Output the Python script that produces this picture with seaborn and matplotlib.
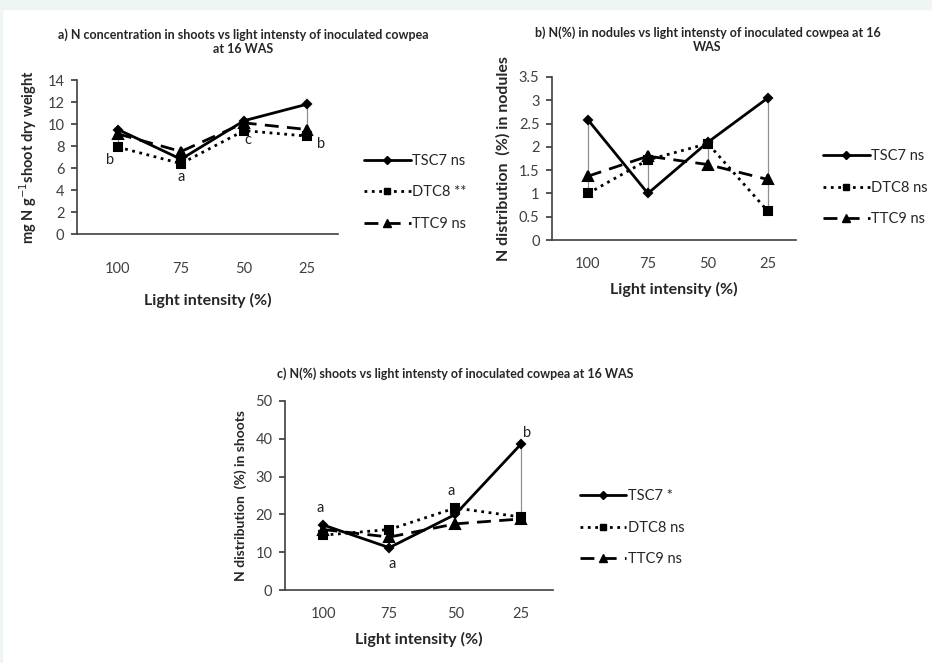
import numpy as np
import pandas as pd
import matplotlib
matplotlib.use("Agg")
import matplotlib.pyplot as plt
import matplotlib.patches as mpatches
from matplotlib.lines import Line2D
import seaborn as sns

# ---- data ----
light = ["100", "75", "50", "25"]
series = ["TSC7", "DTC8", "TTC9"]

shoot_conc_tsc7 = [9.5, 6.8, 10.3, 11.8]
shoot_conc_dtc8 = [7.9, 6.4, 9.4, 8.9]
shoot_conc_ttc9 = [9.1, 7.5, 10.1, 9.5]
shoot_conc_sig = ["ns", "**", "ns"]

nodule_tsc7 = [2.58, 1.0, 2.1, 3.05]
nodule_dtc8 = [1.0, 1.72, 2.07, 0.62]
nodule_ttc9 = [1.37, 1.8, 1.62, 1.3]
nodule_sig = ["ns", "ns", "ns"]

shoot_pct_tsc7 = [17.2, 11.2, 20.0, 38.7]
shoot_pct_dtc8 = [14.5, 16.0, 21.7, 19.3]
shoot_pct_ttc9 = [16.0, 14.0, 17.5, 18.8]
shoot_pct_sig = ["*", "ns", "ns"]

# letters (letter, category, series it sits by)
letters_a = [("b", "100", "DTC8"), ("a", "75", "DTC8"), ("c", "50", "DTC8"), ("b", "25", "DTC8")]
letters_c = [("a", "100", "TSC7"), ("a", "75", "TSC7"), ("a", "50", "DTC8"), ("b", "25", "TSC7")]

styles = {
    "TSC7": dict(marker="D", linestyle="-", markersize=4, linewidth=2.0),
    "DTC8": dict(marker="s", linestyle=":", markersize=5.5, linewidth=2.0),
    "TTC9": dict(marker="^", linestyle=(0, (5, 3)), markersize=6.5, linewidth=2.0),
}

sns.set_theme(style="white")
plt.rcParams["font.family"] = ["Lato", "DejaVu Sans"]

W, H = 932, 663
fig = plt.figure(figsize=(W / 100, H / 100), dpi=100)
fig.patch.set_facecolor("white")
fig.add_artist(mpatches.Rectangle((0, 1 - 9 / H), 1, 9 / H, transform=fig.transFigure,
                                  color="#eef5f2", zorder=0))
fig.add_artist(mpatches.Rectangle((0, 0), 2 / W, 1, transform=fig.transFigure,
                                  color="#eef5f2", zorder=0))


def px_axes(x0, y_top, x1, y_bot):
    return fig.add_axes([x0 / W, 1 - y_bot / H, (x1 - x0) / W, (y_bot - y_top) / H])


def make_df(a, b, c):
    return pd.DataFrame({
        "light": light * 3,
        "value": a + b + c,
        "series": sum([[s] * len(light) for s in series], []),
    })


def panel(ax, df, sig, ymax, ystep, ylabel, ylsize, title, title_y, xlim,
          tickpad, xlpad, leg_anchor):
    for s in series:
        sub = df[df["series"] == s]
        st = styles[s]
        sns.pointplot(data=sub, x="light", y="value", order=light, color="black",
                      errorbar=None, marker=st["marker"], linestyle=st["linestyle"],
                      markersize=st["markersize"], linewidth=st["linewidth"],
                      ax=ax, zorder=3)
    # high-low lines
    piv = df.pivot(index="light", columns="series", values="value").loc[light]
    ax.vlines(range(len(light)), piv.min(axis=1), piv.max(axis=1), color="#909090",
              linewidth=0.9, zorder=1)
    ax.set_xlim(*xlim)
    ax.set_ylim(0, ymax)
    ticks = np.arange(0, ymax + ystep / 2, ystep)
    ax.set_yticks(ticks)
    ax.set_yticklabels([f"{t:g}" for t in ticks])
    ax.set_xlabel("Light intensity (%)", fontsize=11.5, fontweight="bold", labelpad=xlpad)
    ax.set_ylabel(ylabel, fontsize=ylsize, fontweight="bold", labelpad=6)
    ax.set_title(title, fontsize=9, fontweight="bold", x=0.637, y=title_y, linespacing=1.2)
    for side in ["top", "right"]:
        ax.spines[side].set_visible(False)
    for side in ["left", "bottom"]:
        ax.spines[side].set_color("#404040")
        ax.spines[side].set_linewidth(1.2)
    ax.tick_params(axis="y", left=True, length=4, color="#404040", labelsize=10.5,
                   labelcolor="#404040", pad=5)
    ax.tick_params(axis="x", bottom=False, labelsize=10.5, labelcolor="#404040", pad=tickpad)
    handles = [Line2D([], [], color="black", marker=styles[s]["marker"],
                      linestyle=styles[s]["linestyle"], linewidth=2.0,
                      markersize=styles[s]["markersize"] * 0.9) for s in series]
    labels = [f"{s} {t}" for s, t in zip(series, sig)]
    ax.legend(handles, labels, loc="center left", bbox_to_anchor=leg_anchor, frameon=False,
              fontsize=10.5, labelspacing=1.2, handlelength=3.2, handletextpad=0.1,
              borderaxespad=0, borderpad=0)


def add_letters(ax, df, letters, offsets):
    for (txt, cat, s), (dx, dy) in zip(letters, offsets):
        yv = df[(df["series"] == s) & (df["light"] == cat)]["value"].iloc[0]
        ax.annotate(txt, (light.index(cat), yv), xytext=(dx, dy), textcoords="offset points",
                    ha="center", va="center", fontsize=10.5, color="#222222")


df_a = make_df(shoot_conc_tsc7, shoot_conc_dtc8, shoot_conc_ttc9)
df_b = make_df(nodule_tsc7, nodule_dtc8, nodule_ttc9)
df_c = make_df(shoot_pct_tsc7, shoot_pct_dtc8, shoot_pct_ttc9)

ax_a = px_axes(77, 80, 338, 234)
panel(ax_a, df_a, shoot_conc_sig, 14, 2, "mg N g$^{-1}$shoot dry weight", 10.5,
      "a) N concentration in shoots vs light intensty of inoculated cowpea\nat 16 WAS",
      1.12, (-0.65, 3.49), 14, 12, (1.1, 0.27))
add_letters(ax_a, df_a, letters_a, [(-6, -9), (0, -10), (3, -7), (10, -6)])

ax_b = px_axes(552, 77, 796, 240)
panel(ax_b, df_b, nodule_sig, 3.5, 0.5, "N distribution  (%) in nodules", 11.5,
      "b) N(%) in nodules vs light intensty of inoculated cowpea at 16\nWAS",
      1.11, (-0.6, 3.47), 6, 8, (1.11, 0.32))

ax_c = px_axes(285, 401, 553, 590)
panel(ax_c, df_c, shoot_pct_sig, 50, 10, "N distribution  (%) in shoots", 10,
      "c) N(%) shoots vs light intensty of inoculated cowpea at 16 WAS",
      1.08, (-0.58, 3.48), 6, 8, (1.1, 0.33))
add_letters(ax_c, df_c, letters_c, [(-2, 12), (2, -12), (-3, 12), (4, 8)])

fig.savefig("out.png", dpi=100, facecolor=fig.get_facecolor())
